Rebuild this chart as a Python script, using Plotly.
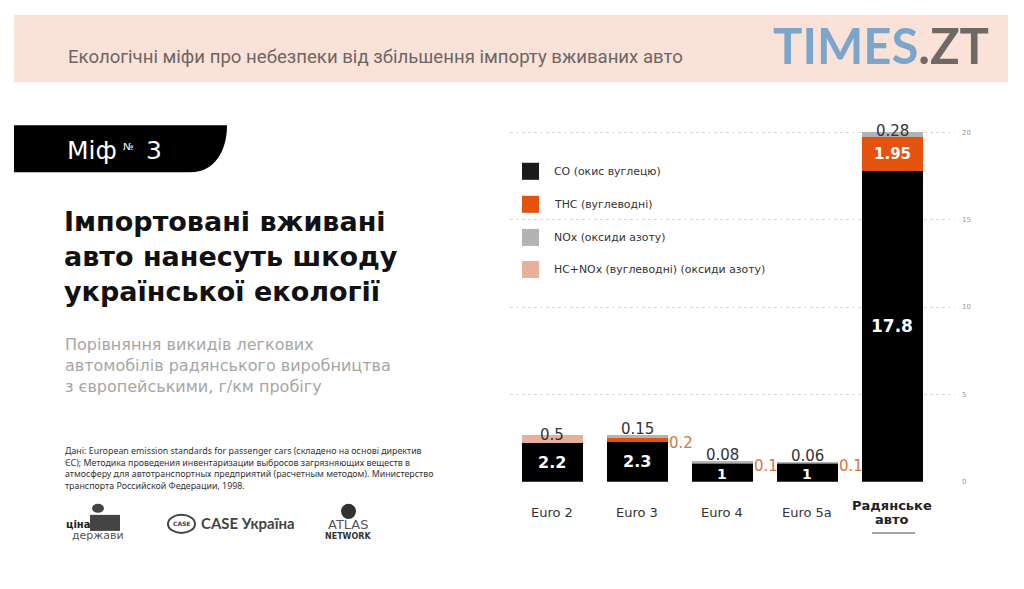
import plotly.graph_objects as go

# ---------------- data ----------------
categories = ["Euro 2", "Euro 3", "Euro 4", "Euro 5a", "Радянське авто"]
tick_labels = ["Euro 2", "Euro 3", "Euro 4", "Euro 5a", "<b>Радянське</b><br><b>авто</b>"]
co = [2.2, 2.3, 1, 1, 17.8]          # CO (окис вуглецю)
thc = [None, 0.2, 0.1, 0.1, 1.95]    # THC (вуглеводні)
nox = [None, 0.15, 0.08, 0.06, 0.28] # NOx (оксиди азоту)
hcnox = [0.5, None, None, None, None]  # HC+NOx
y_ticks = [0, 5, 10, 15, 20]

series_names = ["CO (окис вуглецю)", "THC (вуглеводні)", "NOx (оксиди азоту)",
                "HC+NOx (вуглеводні) (оксиди азоту)"]
series_colors = ["#000000", "#e4520e", "#b3b3b3", "#e6b09a"]
legend_colors = ["#1a1a1a", "#e4520e", "#b3b3b3", "#e6b09a"]

W, H = 1024, 589
FIG_H = 594  # page is captured slightly taller and squeezed to 589
def X(px): return px / W
def Y(py): return 1 - py / H

FONT = "DejaVu Sans"

fig = go.Figure()
for vals, name, col in zip([co, thc, nox, hcnox], series_names, series_colors):
    fig.add_trace(go.Bar(x=categories, y=vals, name=name, marker_color=col,
                         marker_line_width=0, showlegend=False, hoverinfo="skip"))

ann = []
shapes = []

# --- bar value labels ---
def tot(i, *arrs):
    return sum((a[i] or 0) for a in arrs)

for i, c in enumerate(categories):
    big = co[i] > 10
    ann.append(dict(x=c, y=co[i] / 2, xref="x", yref="y", text=f"<b>{co[i]:g}</b>",
                    showarrow=False,
                    font=dict(family=FONT, size=17 if big else (16 if co[i] > 1.5 else 14), color="white"),
                    yshift=-1 if co[i] <= 1.5 else 0))
    top = tot(i, co, thc, nox, hcnox)
    top_val = nox[i] if nox[i] is not None else hcnox[i]
    if top_val is not None:
        ann.append(dict(x=c, y=top, xref="x", yref="y", text=f"{top_val:g}",
                        showarrow=False, yanchor="middle",
                        yshift=1 if big else (0 if hcnox[i] else 6),
                        font=dict(family=FONT, size=15, color="#333333")))
    if thc[i] is not None:
        if big:
            ann.append(dict(x=c, y=co[i] + thc[i] / 2, xref="x", yref="y",
                            text=f"<b>{thc[i]:g}</b>", showarrow=False,
                            font=dict(family=FONT, size=15, color="white")))
        else:
            ann.append(dict(x=c, y=co[i] + thc[i] / 2, xref="x", yref="y",
                            text=f"{thc[i]:g}", showarrow=False, xanchor="left",
                            xshift=30, yshift=-3,
                            font=dict(family=FONT, size=15, color="#d4763a")))

# --- category labels (under axis) ---
for c, t in zip(categories, tick_labels):
    lines = t.split("<br>")
    n = len(lines)
    for k, ln in enumerate(lines):
        ann.append(dict(x=c, xref="x", yref="paper", y=Y(512 + (k - (n - 1) / 2) * 14),
                        yanchor="middle", text=ln, showarrow=False,
                        font=dict(family=FONT, size=13, color="#222222" if n > 1 else "#333333")))

# --- header band ---
shapes.append(dict(type="rect", xref="paper", yref="paper", x0=X(14), x1=X(1008),
                   y0=Y(82), y1=Y(15), fillcolor="#fbe2d8", line_width=0, layer="below"))
ann.append(dict(xref="paper", yref="paper", x=X(66), y=Y(57), xanchor="left", yanchor="middle",
                text="Екологічні міфи про небезпеки від збільшення імпорту вживаних авто",
                showarrow=False, font=dict(family="Roboto", size=18.6, color="#6b6666")))
ann.append(dict(xref="paper", yref="paper", x=X(991), y=Y(45), xanchor="right", yanchor="middle",
                text=("<b><span style='color:#7aa6cb'>TIMES</span>"
                      "<span style='color:#6e6867'>.ZT</span></b>"),
                showarrow=False,
                font=dict(family="Lato", size=49)))

# --- black tab ---
path = (f"M {X(14)},{Y(125)} L {X(227)},{Y(125)} "
        f"C {X(227)},{Y(150)} {X(215)},{Y(172)} {X(190)},{Y(172)} "
        f"L {X(14)},{Y(172)} Z")
shapes.append(dict(type="path", xref="paper", yref="paper", path=path,
                   fillcolor="#000000", line_width=0))
ann.append(dict(xref="paper", yref="paper", x=X(65), y=Y(150), xanchor="left", yanchor="middle",
                text="Міф", showarrow=False,
                font=dict(family=FONT, size=25, color="white")))
ann.append(dict(xref="paper", yref="paper", x=X(121), y=Y(146), xanchor="left", yanchor="middle",
                text="№", showarrow=False,
                font=dict(family=FONT, size=10, color="white")))
ann.append(dict(xref="paper", yref="paper", x=X(144), y=Y(150), xanchor="left", yanchor="middle",
                text="3", showarrow=False,
                font=dict(family=FONT, size=25, color="white")))

# --- title & subtitle ---
ann.append(dict(xref="paper", yref="paper", x=X(62), y=Y(204), xanchor="left", yanchor="top",
                align="left",
                text="<b>Імпортовані вживані<br>авто нанесуть шкоду<br>української екології</b>",
                showarrow=False, font=dict(family=FONT, size=27, color="#111111")))
ann.append(dict(xref="paper", yref="paper", x=X(63), y=Y(332), xanchor="left", yanchor="top",
                align="left",
                text="Порівняння викидів легкових<br>автомобілів радянського виробництва<br>з європейськими, г/км пробігу",
                showarrow=False, font=dict(family=FONT, size=16, color="#a6a6a6")))

# --- source ---
ann.append(dict(xref="paper", yref="paper", x=X(63), y=Y(442), xanchor="left", yanchor="top",
                align="left",
                text=("Дані: European emission standards for passenger cars (складено на основі директив<br>"
                      "ЄС); Методика проведения инвентаризации выбросов загрязняющих веществ в<br>"
                      "атмосферу для автотранспортных предприятий (расчетным методом). Министерство<br>"
                      "транспорта Российской Федерации, 1998."),
                showarrow=False, font=dict(family="Noto Sans", size=8.85, color="#333333")))

# --- logos (text approximations) ---
ann.append(dict(xref="paper", yref="paper", x=X(64), y=Y(524), xanchor="left", yanchor="middle",
                text="<b>ціна</b>", showarrow=False, font=dict(family=FONT, size=10, color="#222")))
ann.append(dict(xref="paper", yref="paper", x=X(70), y=Y(535), xanchor="left", yanchor="middle",
                text="держави", showarrow=False, font=dict(family=FONT, size=11, color="#555")))
shapes.append(dict(type="rect", xref="paper", yref="paper", x0=X(90), x1=X(120), y0=Y(530), y1=Y(514),
                   fillcolor="#444", line_width=0))
shapes.append(dict(type="circle", xref="paper", yref="paper", x0=X(92), x1=X(104), y0=Y(512), y1=Y(503),
                   fillcolor="#444", line_width=0))
shapes.append(dict(type="circle", xref="paper", yref="paper", x0=X(168), x1=X(195), y0=Y(532), y1=Y(514),
                   fillcolor="white", line=dict(color="#444", width=2)))
ann.append(dict(xref="paper", yref="paper", x=X(181.5), y=Y(523), xanchor="center", yanchor="middle",
                text="<b>CASE</b>", showarrow=False, font=dict(family=FONT, size=6, color="#444")))
ann.append(dict(xref="paper", yref="paper", x=X(199), y=Y(522), xanchor="left", yanchor="middle",
                text="<b>CASE Україна</b>", showarrow=False,
                font=dict(family="Lato", size=15, color="#444")))
ann.append(dict(xref="paper", yref="paper", x=X(348), y=Y(524), xanchor="center", yanchor="middle",
                text="ATLAS", showarrow=False, font=dict(family=FONT, size=13, color="#555")))
ann.append(dict(xref="paper", yref="paper", x=X(348), y=Y(536), xanchor="center", yanchor="middle",
                text="<b>NETWORK</b>", showarrow=False, font=dict(family=FONT, size=8, color="#333")))
shapes.append(dict(type="circle", xref="paper", yref="paper", x0=X(341), x1=X(356), y0=Y(518), y1=Y(503),
                   fillcolor="#333", line_width=0))

# --- legend (manual) ---
leg_y = [171, 204, 237, 269]
for yy, name, col in zip(leg_y, series_names, legend_colors):
    shapes.append(dict(type="rect", xref="paper", yref="paper", x0=X(522), x1=X(539),
                       y0=Y(yy + 8.5), y1=Y(yy - 8.5), fillcolor=col, line_width=0))
    ann.append(dict(xref="paper", yref="paper", x=X(552), y=Y(yy), xanchor="left", yanchor="middle",
                    text=name, showarrow=False, font=dict(family=FONT, size=10.9, color="#333333")))

# underline under the Soviet label
shapes.append(dict(type="line", xref="paper", yref="paper", x0=X(872), x1=X(915), y0=Y(532), y1=Y(532),
                   line=dict(color="#888888", width=1.5)))

fig.update_layout(
    width=W, height=FIG_H,
    margin=dict(l=0, r=0, t=0, b=0),
    paper_bgcolor="white", plot_bgcolor="white",
    barmode="stack", bargap=0.28,
    annotations=ann, shapes=shapes,
    xaxis=dict(domain=[X(510), X(955)], range=[-0.5, 4.74], type="category",
               showticklabels=False, showgrid=False, showline=False, ticks="", fixedrange=True),
    yaxis=dict(domain=[Y(481), Y(481 - 20.6 * 17.45)], range=[0, 20.6], side="right",
               tickvals=y_ticks, showgrid=True, gridcolor="#d9d9d9", griddash="dot", gridwidth=1,
               zeroline=False, showline=False, ticks="", ticklabelstandoff=6,
               tickfont=dict(family=FONT, size=7, color="#999999"), fixedrange=True),
    font=dict(family=FONT),
)

fig.write_html(
    "out.html",
    config={"displayModeBar": False, "staticPlot": True},
    post_script=(
        "document.documentElement.style.margin='0';"
        "document.body.style.margin='0';"
        "document.body.style.lineHeight='0';"
        "document.documentElement.style.overflow='hidden';"
        "document.querySelectorAll('.plotly-graph-div, .svg-container').forEach(function(e){"
        "e.style.display='block';e.style.verticalAlign='top';});"
    ),
)
